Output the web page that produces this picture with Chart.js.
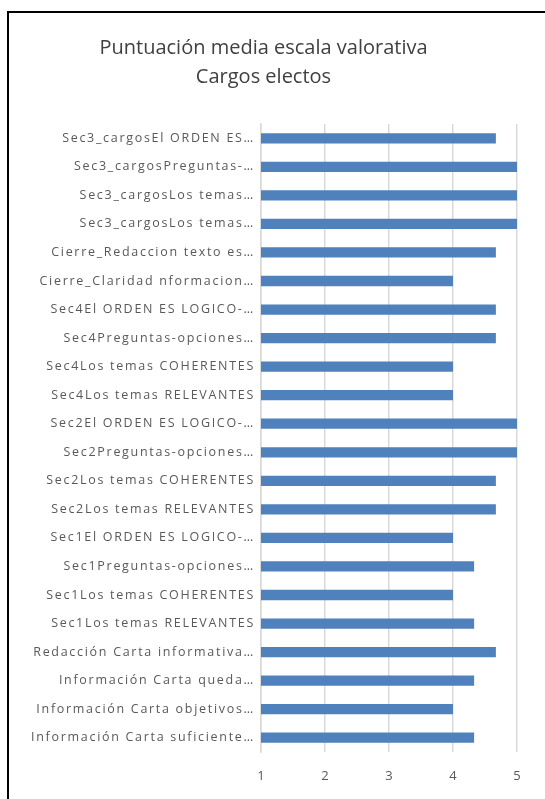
<!DOCTYPE html>
<html>
<head>
<meta charset="utf-8">
<script src="https://cdn.jsdelivr.net/npm/chart.js@4.4.1/dist/chart.umd.min.js"></script>
<style>
  html, body { margin: 0; padding: 0; background: #fff; overflow: hidden; }
  #frame { position: absolute; left: 7px; top: 11px; width: 600px; height: 850px; border: 2px solid #000; box-sizing: border-box; }
  #wrap { position: absolute; left: 0; top: 0; width: 545px; height: 799px; }
</style>
</head>
<body>
<div id="frame"></div>
<div id="wrap"><canvas id="scoreChart" width="545" height="799"></canvas></div>
<script>
// Etiquetas (tal como aparecen, recortadas) de arriba a abajo
const categories = [
    'Sec3_cargosEl ORDEN ES…',
    'Sec3_cargosPreguntas-…',
    'Sec3_cargosLos temas…',
    'Sec3_cargosLos temas…',
    'Cierre_Redaccion texto es…',
    'Cierre_Claridad nformacion…',
    'Sec4El ORDEN ES LOGICO-…',
    'Sec4Preguntas-opciones…',
    'Sec4Los temas COHERENTES',
    'Sec4Los temas RELEVANTES',
    'Sec2El ORDEN ES LOGICO-…',
    'Sec2Preguntas-opciones…',
    'Sec2Los temas COHERENTES',
    'Sec2Los temas RELEVANTES',
    'Sec1El ORDEN ES LOGICO-…',
    'Sec1Preguntas-opciones…',
    'Sec1Los temas COHERENTES',
    'Sec1Los temas RELEVANTES',
    'Redacción Carta informativa…',
    'Información Carta queda…',
    'Información Carta objetivos…',
    'Información Carta suficiente…'
];
const meanScores = [4.67, 5, 5, 5, 4.67, 4, 4.67, 4.67, 4, 4, 5, 5, 4.67, 4.67, 4, 4.33, 4, 4.33, 4.67, 4.33, 4, 4.33];
const scaleTicks = [1, 2, 3, 4, 5];
const titleLines = ['Puntuación media escala valorativa', 'Cargos electos'];

// las etiquetas del eje de categorías salen con letras espaciadas en el original
const spacedLabels = {
    id: 'spacedLabels',
    beforeDraw(chart) {
        const y = chart.scales.y;
        if (y._spaced) return;
        const orig = y.drawLabels;
        y.drawLabels = function (area) {
            this.ctx.save();
            this.ctx.letterSpacing = '1.7px';
            orig.call(this, area);
            this.ctx.restore();
        };
        y._spaced = true;
    }
};

const ctx = document.getElementById('scoreChart').getContext('2d');
const scoreChart = new Chart(ctx, {
    type: 'bar',
    data: {
        labels: categories,
        datasets: [{
            label: 'Puntuación media',
            data: meanScores,
            backgroundColor: '#4f81bd',
            borderColor: '#4f81bd',
            borderWidth: 0,
            barPercentage: 0.36,
            categoryPercentage: 1
        }]
    },
    options: {
        indexAxis: 'y',
        responsive: false,
        animation: false,
        layout: {
            padding: { left: 10, right: 28, top: 0, bottom: 0 }
        },
        plugins: {
            legend: { display: false },
            tooltip: { enabled: false },
            title: {
                display: true,
                text: titleLines,
                color: '#404040',
                font: { family: 'Open Sans', size: 20, weight: 'normal', lineHeight: 1.45 },
                padding: { top: 34, bottom: 32 }
            }
        },
        scales: {
            x: {
                min: scaleTicks[0],
                max: scaleTicks[scaleTicks.length - 1],
                afterBuildTicks: (scale) => {
                    scale.ticks = scaleTicks.map(v => ({ value: v }));
                },
                afterFit: (scale) => { scale.height = 47; },
                grid: { color: '#d9d9d9', lineWidth: 1.5, drawTicks: false },
                border: { display: false },
                ticks: {
                    color: '#595959',
                    font: { family: 'Open Sans', size: 13 },
                    padding: 16
                }
            },
            y: {
                afterFit: (scale) => { scale.width = 251; },
                grid: { display: false },
                border: { color: '#d9d9d9', width: 1.5 },
                ticks: {
                    color: '#595959',
                    font: { family: 'Open Sans', size: 12.5 },
                    padding: -2,
                    autoSkip: false
                }
            }
        }
    },
    plugins: [spacedLabels]
});
</script>
</body>
</html>
